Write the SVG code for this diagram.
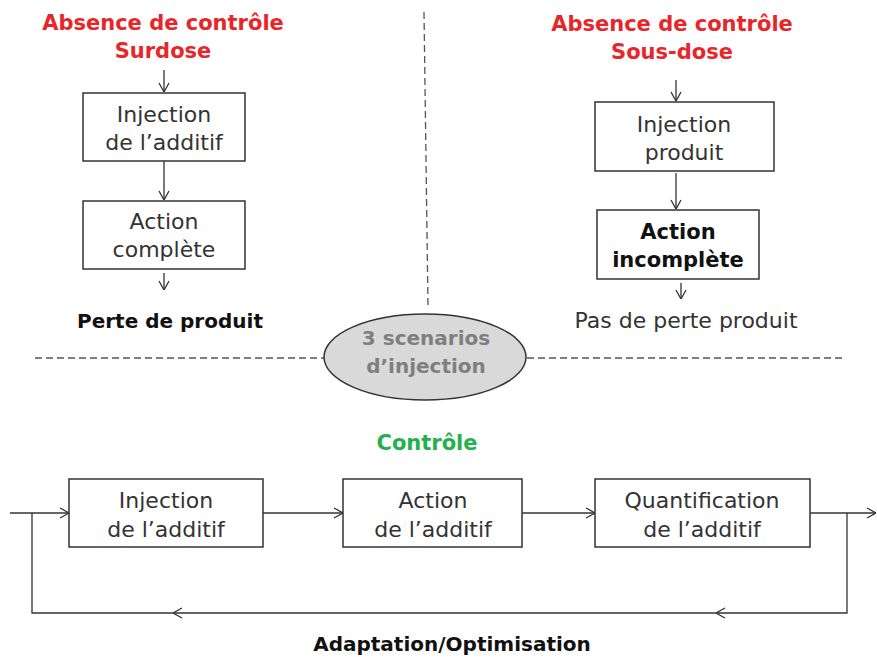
<svg xmlns="http://www.w3.org/2000/svg" width="877" height="657" viewBox="0 0 877 657">
<defs>
<marker id="arr" viewBox="0 0 10 12" refX="10" refY="6" markerWidth="10" markerHeight="12" markerUnits="userSpaceOnUse" orient="auto">
<path d="M1,1 L10,6 L1,11" fill="none" stroke="#333" stroke-width="1.3"/>
</marker>
<style>
.box{fill:#fff;stroke:#333;stroke-width:1.5}
.t{font-family:"DejaVu Sans","Liberation Sans",sans-serif;font-size:22px;fill:#333;text-anchor:middle}
.b{font-family:"DejaVu Sans","Liberation Sans",sans-serif;font-size:20px;font-weight:bold;fill:#111;text-anchor:middle}
.red{font-family:"DejaVu Sans","Liberation Sans",sans-serif;font-size:21px;font-weight:bold;fill:#e8262a;text-anchor:middle}
.ln{fill:none;stroke:#333;stroke-width:1.3}
.dash{fill:none;stroke:#555;stroke-width:1.3;stroke-dasharray:7,4}
</style>
</defs>
<rect width="877" height="657" fill="#fff"/>

<g id="separators">
<path class="dash" d="M424,12 L428,307"/>
<path class="dash" d="M35,358 L325,358"/>
<path class="dash" d="M527,358 L843,358"/>
</g>

<g id="connectors">
<path class="ln" d="M164,70 L164,92" marker-end="url(#arr)"/>
<path class="ln" d="M164,161 L164,200" marker-end="url(#arr)"/>
<path class="ln" d="M164,273 L164,290" marker-end="url(#arr)"/>
<path class="ln" d="M676,80 L676,101" marker-end="url(#arr)"/>
<path class="ln" d="M676,173 L676,209" marker-end="url(#arr)"/>
<path class="ln" d="M681,283 L681,299" marker-end="url(#arr)"/>
<path class="ln" d="M10,513 L69,513" marker-end="url(#arr)"/>
<path class="ln" d="M263,513 L343,513" marker-end="url(#arr)"/>
<path class="ln" d="M522,513 L595,513" marker-end="url(#arr)"/>
<path class="ln" d="M810,513 L876,513" marker-end="url(#arr)"/>
<path class="ln" d="M847,513 L847,613 L716,613" marker-end="url(#arr)"/>
<path class="ln" d="M716,613 L173,613" marker-end="url(#arr)"/>
<path class="ln" d="M173,613 L32,613 L32,513"/>
</g>

<g id="title-surdose">
<text class="red" x="163" y="30">Absence de contrôle</text>
<text class="red" x="163" y="58">Surdose</text>
</g>
<g id="s-injection">
<rect class="box" x="83" y="93" width="162" height="68"/>
<text class="t" x="164" y="122">Injection</text>
<text class="t" x="164" y="150">de l’additif</text>
</g>
<g id="s-action">
<rect class="box" x="83" y="201" width="162" height="68"/>
<text class="t" x="164" y="229">Action</text>
<text class="t" x="164" y="257">complète</text>
</g>
<g id="s-perte">
<text class="b" x="170" y="328">Perte de produit</text>
</g>

<g id="title-sousdose">
<text class="red" x="672" y="31">Absence de contrôle</text>
<text class="red" x="672" y="59">Sous-dose</text>
</g>
<g id="u-injection">
<rect class="box" x="595" y="102" width="179" height="69"/>
<text class="t" x="684" y="132">Injection</text>
<text class="t" x="684" y="160">produit</text>
</g>
<g id="u-action">
<rect class="box" x="597" y="210" width="162" height="69"/>
<text class="b" x="678" y="239" style="font-size:21px">Action</text>
<text class="b" x="678" y="267" style="font-size:21px">incomplète</text>
</g>
<g id="u-pas">
<text class="t" x="686" y="328">Pas de perte produit</text>
</g>

<g id="scenarios">
<ellipse cx="425" cy="357" rx="101" ry="43" fill="#d9d9d9" stroke="#333" stroke-width="1.5"/>
<text class="b" x="426" y="345" style="fill:#7f7f7f">3 scenarios</text>
<text class="b" x="426" y="373" style="fill:#7f7f7f">d’injection</text>
</g>

<g id="title-controle">
<text class="b" x="427" y="450" style="fill:#22b14c;font-size:21px">Contrôle</text>
</g>
<g id="c-injection">
<rect class="box" x="69" y="479" width="194" height="68"/>
<text class="t" x="166" y="508">Injection</text>
<text class="t" x="166" y="537">de l’additif</text>
</g>
<g id="c-action">
<rect class="box" x="343" y="479" width="179" height="68"/>
<text class="t" x="433" y="508">Action</text>
<text class="t" x="433" y="537">de l’additif</text>
</g>
<g id="c-quantification">
<rect class="box" x="595" y="479" width="215" height="68"/>
<text class="t" x="702" y="508">Quantification</text>
<text class="t" x="702" y="537">de l’additif</text>
</g>
<g id="c-adaptation">
<text class="b" x="452" y="651">Adaptation/Optimisation</text>
</g>
</svg>
